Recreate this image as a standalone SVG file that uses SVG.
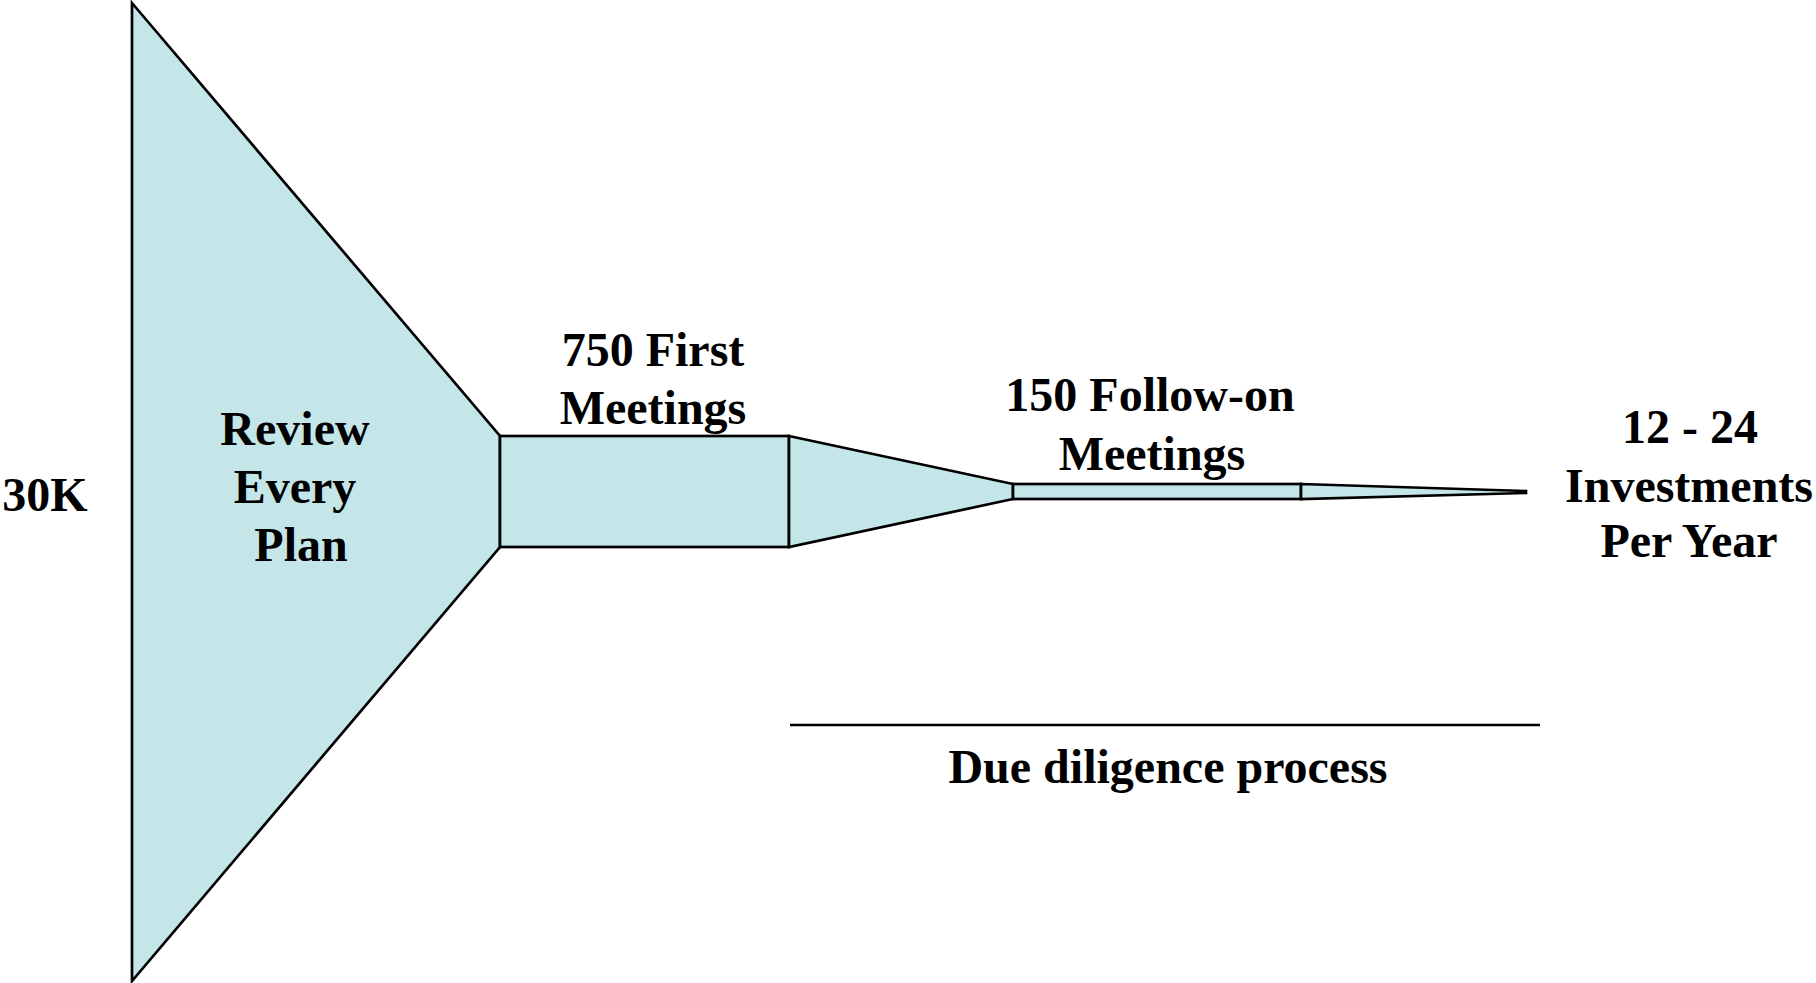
<svg xmlns="http://www.w3.org/2000/svg" width="1816" height="983" viewBox="0 0 1816 983">
<style>
.shape{fill:#C4E6E8;stroke:#000;stroke-width:2.7;stroke-linejoin:miter}
.t{font-family:"Liberation Serif","Times New Roman",serif;font-weight:bold;font-size:48px;fill:#000;text-anchor:middle}
</style>
<rect width="1816" height="983" fill="#fff"/>
<g id="review">
<polygon class="shape" points="132,3 500,436 500,547 132,981"/>
<text class="t" x="295" y="445">Review</text>
<text class="t" x="295" y="503">Every</text>
<text class="t" x="301" y="561">Plan</text>
</g>
<g id="first-meetings">
<rect class="shape" x="500" y="436" width="289" height="111"/>
<text class="t" x="653" y="366">750 First</text>
<text class="t" x="653" y="424">Meetings</text>
</g>
<g id="taper1">
<polygon class="shape" points="789,436 1013,484 1013,499 789,547"/>
</g>
<g id="follow-on">
<rect class="shape" x="1013" y="484" width="288" height="15"/>
<text class="t" x="1150" y="411">150 Follow-on</text>
<text class="t" x="1152" y="470">Meetings</text>
</g>
<g id="investments">
<polygon class="shape" points="1301,484 1526,491 1526,493 1301,499"/>
<text class="t" x="1690" y="443">12 - 24</text>
<text class="t" x="1689" y="502">Investments</text>
<text class="t" x="1689" y="557">Per Year</text>
</g>
<g id="source">
<text class="t" x="45" y="511">30K</text>
</g>
<g id="connectors">
<line x1="790" y1="725" x2="1540" y2="725" stroke="#000" stroke-width="2.7"/>
</g>
<g id="due-diligence">
<text class="t" x="1168" y="783">Due diligence process</text>
</g>
</svg>
